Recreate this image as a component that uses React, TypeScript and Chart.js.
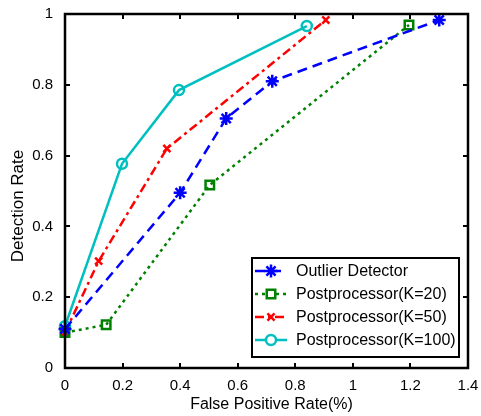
import React, { useEffect, useRef } from "react";
import { Chart, registerables } from "chart.js";
import { drawPoint } from "chart.js/helpers";

Chart.register(...registerables);

const xTicks = [0, 0.2, 0.4, 0.6, 0.8, 1, 1.2, 1.4];
const yTicks = [0, 0.2, 0.4, 0.6, 0.8, 1];

const outlierX = [0, 0.4, 0.56, 0.72, 1.3];
const outlierY = [0.11, 0.495, 0.705, 0.81, 0.983];

const k20X = [0, 0.143, 0.503, 1.195];
const k20Y = [0.1, 0.122, 0.517, 0.969];

const k50X = [0, 0.117, 0.354, 0.906];
const k50Y = [0.1, 0.302, 0.62, 0.983];

const k100X = [0, 0.198, 0.396, 0.84];
const k100Y = [0.118, 0.577, 0.785, 0.966];

const seriesNames = [
  "Outlier Detector",
  "Postprocessor(K=20)",
  "Postprocessor(K=50)",
  "Postprocessor(K=100)",
];

const xTitle = "False Positive Rate(%)";
const yTitle = "Detection Rate";

const FONT = "'Liberation Sans', Arial, Helvetica, sans-serif";

const toPts = (xs: number[], ys: number[]) => xs.map((x, i) => ({ x, y: ys[i] }));

const framePlugin = {
  id: "frameTicks",
  afterDatasetsDraw(chart: any) {
    const { ctx, chartArea: ca, scales } = chart;
    const tl = 5;
    ctx.save();
    ctx.strokeStyle = "#000";
    ctx.lineWidth = 2;
    ctx.beginPath();
    for (const v of xTicks) {
      const px = Math.round(scales.x.getPixelForValue(v));
      if (v === xTicks[0] || v === xTicks[xTicks.length - 1]) continue;
      ctx.moveTo(px, ca.bottom);
      ctx.lineTo(px, ca.bottom - tl);
      ctx.moveTo(px, ca.top);
      ctx.lineTo(px, ca.top + tl);
    }
    for (const v of yTicks) {
      const py = Math.round(scales.y.getPixelForValue(v));
      if (v === yTicks[0] || v === yTicks[yTicks.length - 1]) continue;
      ctx.moveTo(ca.left, py);
      ctx.lineTo(ca.left + tl, py);
      ctx.moveTo(ca.right, py);
      ctx.lineTo(ca.right - tl, py);
    }
    ctx.stroke();
    ctx.lineWidth = 2.5;
    ctx.strokeRect(ca.left, ca.top, ca.right - ca.left, ca.bottom - ca.top);

    // axis titles
    ctx.fillStyle = "#000";
    ctx.textAlign = "center";
    ctx.textBaseline = "middle";
    ctx.font = `16px ${FONT}`;
    ctx.fillText(xTitle, (ca.left + ca.right) / 2 + 5, 405);
    ctx.font = `17px ${FONT}`;
    ctx.translate(18, (ca.top + ca.bottom) / 2 + 15);
    ctx.rotate(-Math.PI / 2);
    ctx.fillText(yTitle, 0, 0);
    ctx.restore();

    // legend
    ctx.save();
    const right = ca.right - 9;
    const bottom = ca.bottom - 11;
    const w = 207;
    const h = 99;
    const left = right - w;
    const top = bottom - h;
    ctx.fillStyle = "#fff";
    ctx.fillRect(left, top, w, h);
    ctx.strokeStyle = "#000";
    ctx.lineWidth = 2;
    ctx.strokeRect(left, top, w, h);
    ctx.font = `16px ${FONT}`;
    ctx.textBaseline = "middle";
    ctx.textAlign = "left";
    chart.data.datasets.forEach((ds: any, i: number) => {
      const y = top + 13 + i * 23;
      const x0 = left + 3;
      const x1 = left + 35;
      ctx.strokeStyle = ds.borderColor;
      ctx.lineWidth = ds.borderWidth;
      ctx.setLineDash(ds.borderDash || []);
      ctx.beginPath();
      ctx.moveTo(x0, y);
      ctx.lineTo(x1, y);
      ctx.stroke();
      ctx.setLineDash([]);
      ctx.fillStyle = "#fff";
      ctx.strokeStyle = ds.borderColor;
      ctx.lineWidth = ds.pointBorderWidth;
      drawPoint(
        ctx,
        {
          pointStyle: ds.pointStyle,
          radius: ds.pointRadius,
          rotation: 0,
          borderWidth: ds.pointBorderWidth,
        } as any,
        (x0 + x1) / 2,
        y
      );
      ctx.fillStyle = "#000";
      ctx.fillText(ds.label, left + 44, y + 1);
    });
    ctx.restore();
  },
};

export default function App() {
  const ref = useRef<HTMLCanvasElement | null>(null);
  useEffect(() => {
    if (!ref.current) return;
    const mk = (
      label: string,
      xs: number[],
      ys: number[],
      color: string,
      dash: number[],
      style: string,
      r: number,
      bw: number
    ) => ({
      label,
      data: toPts(xs, ys),
      borderColor: color,
      backgroundColor: "transparent",
      borderWidth: bw,
      borderDash: dash,
      pointStyle: style,
      pointRadius: r,
      pointBorderWidth: 2.5,
      pointBorderColor: color,
      pointBackgroundColor: "transparent",
      tension: 0,
      clip: 10,
      fill: false,
    });
    const chart = new Chart(ref.current, {
      type: "line",
      data: {
        datasets: [
          mk(seriesNames[0], outlierX, outlierY, "#0000ff", [10, 6], "star", 6.5, 2.5),
          mk(seriesNames[1], k20X, k20Y, "#008000", [3, 4], "rect", 6, 2.5),
          mk(seriesNames[2], k50X, k50Y, "#ff0000", [9, 4, 3, 4], "crossRot", 5, 2.5),
          mk(seriesNames[3], k100X, k100Y, "#00bfbf", [], "circle", 5, 2.5),
        ] as any,
      },
      options: {
        animation: false,
        responsive: false,
        maintainAspectRatio: false,
        layout: { padding: { top: 14, right: 13, left: 0, bottom: 0 } },
        plugins: {
          legend: { display: false },
          tooltip: { enabled: false },
        },
        scales: {
          x: {
            type: "linear",
            min: 0,
            max: 1.4,
            grid: { display: false },
            border: { display: false },
            afterBuildTicks: (s: any) => {
              s.ticks = xTicks.map((v) => ({ value: v }));
            },
            afterFit: (s: any) => {
              s.height = 48;
            },
            ticks: {
              color: "#000",
              padding: 1,
              maxRotation: 0,
              font: { size: 15, family: FONT },
              callback: (v: any) => String(v),
            },
          },
          y: {
            type: "linear",
            min: 0,
            max: 1,
            grid: { display: false },
            border: { display: false },
            afterBuildTicks: (s: any) => {
              s.ticks = yTicks.map((v) => ({ value: v }));
            },
            afterFit: (s: any) => {
              s.width = 65;
            },
            ticks: {
              color: "#000",
              padding: 4,
              font: { size: 15, family: FONT },
              callback: (v: any) => String(v),
            },
          },
        },
      },
      plugins: [framePlugin],
    });
    return () => chart.destroy();
  }, []);
  return (
    <div style={{ position: "fixed", left: 0, top: 0, width: 481, height: 416, background: "#fff" }}>
      <canvas ref={ref} width={481} height={416} style={{ display: "block" }} />
    </div>
  );
}
